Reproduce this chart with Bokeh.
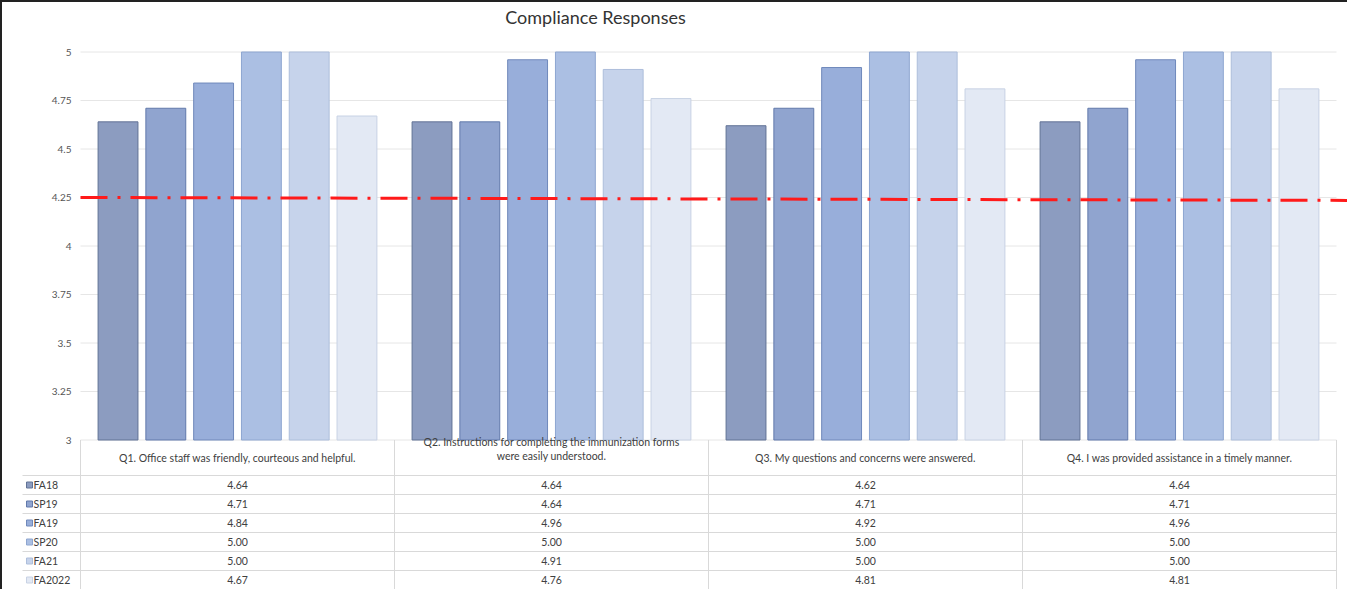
from bokeh.plotting import figure
from bokeh.models import Range1d, Label, ColumnDataSource
from bokeh.layouts import column
from bokeh.embed import file_html
from bokeh.resources import INLINE
from bokeh.core.properties import value

# ---------------- data ----------------
chart_title = "Compliance Responses"
questions = [
    "Q1. Office staff was friendly, courteous and helpful.",
    "Q2. Instructions for completing the immunization forms\nwere easily understood.",
    "Q3. My questions and concerns were answered.",
    "Q4. I was provided assistance in a timely manner.",
]
series_names = ["FA18", "SP19", "FA19", "SP20", "FA21", "FA2022"]
fa18 = [4.64, 4.64, 4.62, 4.64]
sp19 = [4.71, 4.64, 4.71, 4.71]
fa19 = [4.84, 4.96, 4.92, 4.96]
sp20 = [5.00, 5.00, 5.00, 5.00]
fa21 = [5.00, 4.91, 5.00, 5.00]
fa2022 = [4.67, 4.76, 4.81, 4.81]
series_values = [fa18, sp19, fa19, sp20, fa21, fa2022]
target_line = [4.25, 4.235]
y_ticks = [3, 3.25, 3.5, 3.75, 4, 4.25, 4.5, 4.75, 5]
y_tick_labels = ["3", "3.25", "3.5", "3.75", "4", "4.25", "4.5", "4.75", "5"]

# ---------------- styles / layout ----------------
fills = ["#8c9cc0", "#90a4cf", "#98aeda", "#abbfe3", "#c6d3eb", "#e3e9f4"]
edges = ["#617295", "#6179ab", "#7089bb", "#8ea6d0", "#adbedb", "#c8d2e4"]
FONT = "Lato"
TXT = "#404040"
W, H = 1345, 587          # canvas (page x 10..1355, y 10..597)
PX = 314.0                # pixels per category
PY = 194.0                # pixels per score unit
X0_PAGE, Y5_PAGE = 88.0, 59.5


def xd(page_x):           # page pixel -> x data
    return (page_x - X0_PAGE) / PX


def yd(page_y):           # page pixel -> y data
    return 5 - (page_y - Y5_PAGE) / PY


X_END = xd(1355)
PITCH = 0.1522
BAR_W = 0.127
ncat = len(questions)

p = figure(width=W, height=H,
           x_range=Range1d(xd(10), X_END), y_range=Range1d(yd(597), yd(10)),
           x_axis_location=None, y_axis_location=None,
           output_backend="svg", toolbar_location=None,
           min_border=0, min_border_left=0, min_border_right=0,
           min_border_top=0, min_border_bottom=0,
           outline_line_color=None, background_fill_color="white",
           border_fill_color="white")
p.grid.visible = False

# gridlines and value-axis labels
p.segment(x0=[0] * len(y_ticks), x1=[ncat] * len(y_ticks), y0=y_ticks, y1=y_ticks,
          line_color="#e6e6e6", line_width=1)
p.text(x=[xd(79)] * len(y_ticks), y=y_ticks, text=y_tick_labels,
       text_align="right", text_baseline="middle", text_font=value(FONT),
       text_font_size="10px", text_color="#555555")

# bars
n_s = len(series_names)
for k, (name, vals) in enumerate(zip(series_names, series_values)):
    xs = [i + 0.5 + (k - (n_s - 1) / 2) * PITCH for i in range(len(vals))]
    src = ColumnDataSource(dict(x=xs, top=vals))
    p.vbar(x="x", top="top", bottom=3, width=BAR_W, source=src,
           fill_color=fills[k], line_color=edges[k], line_width=1)

# target line
p.line(x=[0, X_END], y=target_line, line_color="#ff1a1a", line_width=3,
       line_dash="27 10 3 10")

# title
p.add_layout(Label(x=xd(603), y=yd(24), text=chart_title,
                   text_align="center", text_baseline="middle",
                   text_font=FONT, text_font_size="18px", text_color="#333333"))

# ---------------- data table ----------------
ROW = 19.0
row_top = 483.0
row_bounds = [yd(row_top + r * ROW) for r in range(n_s + 1)]
p.segment(x0=[xd(30)] * len(row_bounds), x1=[ncat] * len(row_bounds),
          y0=row_bounds, y1=row_bounds, line_color="#d9d9d9", line_width=1)
vx = list(range(ncat + 1))
p.segment(x0=vx, x1=vx, y0=[yd(597)] * len(vx), y1=[3] * len(vx),
          line_color="#d9d9d9", line_width=1)

# header (category) texts, vertically centred by line count
hy = [yd(465 - (q.count("\n")) * 8.5) for q in questions]
p.text(x=[i + 0.5 for i in range(ncat)], y=hy, text=questions,
       text_align="center", text_baseline="middle", text_font=value(FONT),
       text_font_size="10.5px", text_color=TXT, text_line_height=1.2)

# row labels and legend keys
ry = [yd(row_top + (k + 0.5) * ROW) for k in range(n_s)]
p.scatter(x=[xd(37)] * n_s, y=ry, marker="square", size=6,
          fill_color=fills, line_color=edges, line_width=1)
p.text(x=[xd(41)] * n_s, y=ry, text=series_names, text_align="left",
       text_baseline="middle", text_font=value(FONT), text_font_size="10.5px",
       text_color=TXT)

# values
cx, cy, ct = [], [], []
for k, vals in enumerate(series_values):
    for i, v in enumerate(vals):
        cx.append(i + 0.5)
        cy.append(ry[k])
        ct.append(f"{v:.2f}")
p.text(x=cx, y=cy, text=ct, text_align="center", text_baseline="middle",
       text_font=value(FONT), text_font_size="10.5px", text_color=TXT)

layout = column(p, spacing=0,
                styles={"border-top": "2px solid #222222",
                        "border-left": "2px solid #222222"})
open("out.html", "w").write(file_html(layout, INLINE))
